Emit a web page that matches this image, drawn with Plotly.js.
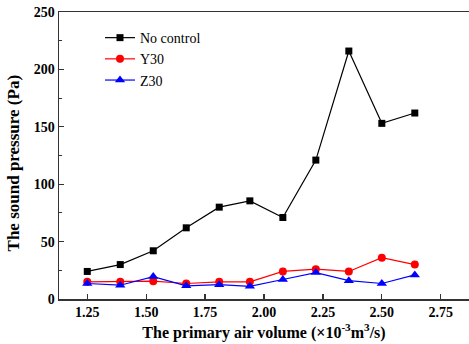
<!DOCTYPE html>
<html>
<head>
<meta charset="utf-8">
<script src="https://cdn.plot.ly/plotly-3.0.1.min.js"></script>
<style>html,body{margin:0;padding:0;background:#fff;}#chart{width:469px;height:344px;}</style>
</head>
<body>
<div id="chart"></div>
<script>
const airVolume = [1.25, 1.39, 1.53, 1.67, 1.81, 1.94, 2.08, 2.22, 2.36, 2.50, 2.64];
const noControl = [24, 30, 42, 62, 80, 85.5, 71, 121, 216, 153, 162];
const y30 = [15, 15, 15.5, 13.5, 15, 15, 24, 26, 24, 36, 30];
const z30 = [13.5, 12, 19.5, 11.5, 12.5, 11, 17, 23, 16, 13.5, 21];
const seriesNames = ["No control", "Y30", "Z30"];
const xTitle = "The primary air volume (×10<sup>-3</sup>m<sup>3</sup>/s)";
const yTitle = "The sound pressure (Pa)";

const serif = "Times New Roman, Liberation Serif, serif";

const traces = [
  {x: airVolume, y: noControl, name: seriesNames[0], mode: "lines+markers",
   line: {color: "#000000", width: 1.2}, marker: {symbol: "square", size: 7, color: "#000000"}},
  {x: airVolume, y: y30, name: seriesNames[1], mode: "lines+markers",
   line: {color: "#ff0000", width: 1.2}, marker: {symbol: "circle", size: 8, color: "#ff0000"}},
  {x: airVolume, y: z30, name: seriesNames[2], mode: "lines+markers",
   line: {color: "#0000ff", width: 1.2}, marker: {symbol: "triangle-up", size: 9, color: "#0000ff"}}
];

const layout = {
  width: 469, height: 344,
  margin: {l: 59, r: 0, t: 12, b: 45},
  paper_bgcolor: "#ffffff", plot_bgcolor: "#ffffff",
  font: {family: serif, color: "#000000", size: 14},
  showlegend: true,
  legend: {x: 0.1, y: 0.965, xanchor: "left", yanchor: "top", bgcolor: "rgba(0,0,0,0)",
           font: {family: serif, size: 14, color: "#000", weight: "normal"}, tracegroupgap: 0, itemwidth: 30},
  xaxis: {
    range: [1.13, 2.87], tick0: 1.25, dtick: 0.25, tickformat: ".2f",
    ticks: "inside", ticklen: 5, tickcolor: "#333", tickwidth: 1.2,
    showline: true, linecolor: "#333", linewidth: 1.5, mirror: true,
    showgrid: false, zeroline: false,
    tickfont: {family: serif, size: 14, weight: "bold", color: "#000"},
    title: {text: xTitle, standoff: 7,
            font: {family: serif, size: 16, weight: "bold", color: "#000"}}
  },
  yaxis: {
    range: [0, 250], dtick: 50,
    ticks: "inside", ticklen: 5, tickcolor: "#333", tickwidth: 1.2,
    minor: {dtick: 25, ticks: "inside", ticklen: 3, tickcolor: "#333", tickwidth: 1},
    showline: true, linecolor: "#333", linewidth: 1.5, mirror: false,
    showgrid: false, zeroline: false,
    tickfont: {family: serif, size: 14, weight: "bold", color: "#000"}
  },
  annotations: [{
    text: yTitle, textangle: -90, showarrow: false,
    xref: "paper", yref: "paper", x: -0.11, y: 0.472, xanchor: "center", yanchor: "middle",
    font: {family: serif, size: 17, weight: "bold", color: "#000"}
  }]
};

Plotly.newPlot("chart", traces, layout, {displayModeBar: false, staticPlot: true});
</script>
</body>
</html>
